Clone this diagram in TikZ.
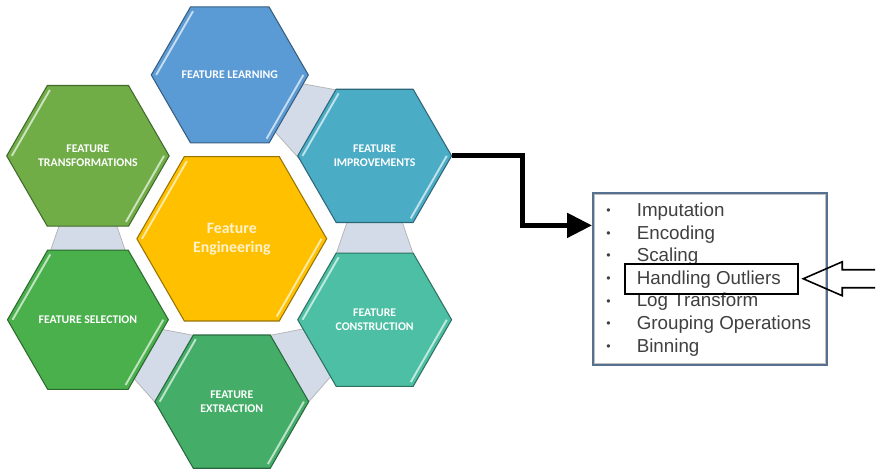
\documentclass[tikz,border=0pt]{standalone}
\usepackage{fontspec}
\setmainfont{Carlito}
\newfontfamily\listfont{Liberation Sans}
\usetikzlibrary{shapes.geometric,arrows.meta,calc,backgrounds}
\definecolor{learnblue}{HTML}{5B9BD5}
\definecolor{transgreen}{HTML}{70AD47}
\definecolor{improveteal}{HTML}{4BACC6}
\definecolor{engamber}{HTML}{FFC000}
\definecolor{engtext}{HTML}{FFF2CC}
\definecolor{selectgreen}{HTML}{4AB04C}
\definecolor{extractgreen}{HTML}{44AE68}
\definecolor{constructmint}{HTML}{4CBFA4}
\definecolor{linkgray}{HTML}{D3DAE8}
\definecolor{boxedge}{HTML}{56708F}
\definecolor{listgray}{HTML}{404040}

\begin{document}
\begin{tikzpicture}[x=0.2mm,y=-0.2mm,
  hexa/.style={regular polygon, regular polygon sides=6, minimum size=30.8mm, inner sep=0pt,
    fill=#1, draw=#1!60!black, line width=0.6pt, text=white, align=center,
    font=\fontsize{6.7}{7.6}\selectfont\bfseries},
  glint/.style={draw=#1!35!white, line width=1.1pt},
  hexlink/.style={fill=linkgray, draw=black!30, line width=0.4pt},
  bigarrow/.style={line width=1mm, -{Triangle[length=5mm,width=4.8mm]}},
  item/.style={anchor=west, inner sep=0pt, text=listgray, font=\listfont\fontsize{10.7}{12}\selectfont},
  dot/.style={inner sep=0pt, text=listgray, font=\listfont\fontsize{7}{8}\selectfont}]

% outer hexagons
\foreach \nm/\x/\y/\col/\txt in {learn/230/75/learnblue/{FEATURE LEARNING},
    trans/88/156/transgreen/{FEATURE\\TRANSFORMATIONS},
    improve/375/156/improveteal/{FEATURE\\IMPROVEMENTS},
    select/88/320/selectgreen/{FEATURE SELECTION},
    construct/375/320/constructmint/{FEATURE\\CONSTRUCTION},
    extract/232/402/extractgreen/{FEATURE\\EXTRACTION}} {
  \node[hexa=\col] (\nm) at (\x,\y) {\txt};
  \draw[glint=\col] ($(\nm.corner 3)!0.07!(\nm.center)$) -- ($(\nm.corner 2)!0.07!(\nm.center)$);
  \draw[glint=\col] ($(\nm.corner 6)!0.07!(\nm.center)$) -- ($(\nm.corner 5)!0.07!(\nm.center)$);
}

% centre hexagon
\node[hexa=engamber, minimum size=38mm, text=engtext, font=\fontsize{9}{10.8}\selectfont\bfseries] (engine) at (232,239) {Feature\\Engineering};
\draw[glint=engamber] ($(engine.corner 3)!0.06!(engine.center)$) -- ($(engine.corner 2)!0.06!(engine.center)$);
\draw[glint=engamber] ($(engine.corner 6)!0.06!(engine.center)$) -- ($(engine.corner 5)!0.06!(engine.center)$);

% grey links between neighbours
\begin{scope}[on background layer]
  \fill[white] (0,0) rectangle (876,472);
  \foreach \a/\b in {learn/improve,improve/construct,construct/extract,select/extract,trans/select}
    \draw[hexlink] ($(\a.center)!0.35!(\b.center)!0.49cm!90:(\b.center)$)
      -- ($(\a.center)!0.65!(\b.center)!0.83cm!90:(\b.center)$)
      -- ($(\a.center)!0.65!(\b.center)!0.83cm!-90:(\b.center)$)
      -- ($(\a.center)!0.35!(\b.center)!0.49cm!-90:(\b.center)$) -- cycle;
\end{scope}

% list box
\node[draw=boxedge, line width=1.6pt, fill=white, minimum width=46.6mm, minimum height=34.2mm] (list) at (710.5,279.5) {};
\draw[black!25, line width=0.5pt] ([shift={(2.5,2.5)}]list.north west) rectangle ([shift={(-2.5,-2.5)}]list.south east);
\foreach \i/\txt in {0/Imputation,1/Encoding,2/Scaling,3/Handling Outliers,4/Log Transform,5/Grouping Operations,6/Binning} {
  \node[dot] (dot\i) at (609,212+22.6*\i) {\textbullet};
  \node[item] (item\i) at (637,212+22.6*\i) {\txt};
}
\node[draw=black, line width=1.1pt, minimum width=34.6mm, minimum height=6mm] (outlierframe) at (712.5,279) {};

% hollow pointer
\draw[line width=0.9pt] (876,270) -- (843,270) -- (843,262) -- ([xshift=0.8mm]outlierframe.east)
  -- (843,296) -- (843,288) -- (876,288);

\draw[bigarrow] (improve.east) -- ++(70,0) |- ([yshift=-6.6mm]list.north west);
\end{tikzpicture}
\end{document}
